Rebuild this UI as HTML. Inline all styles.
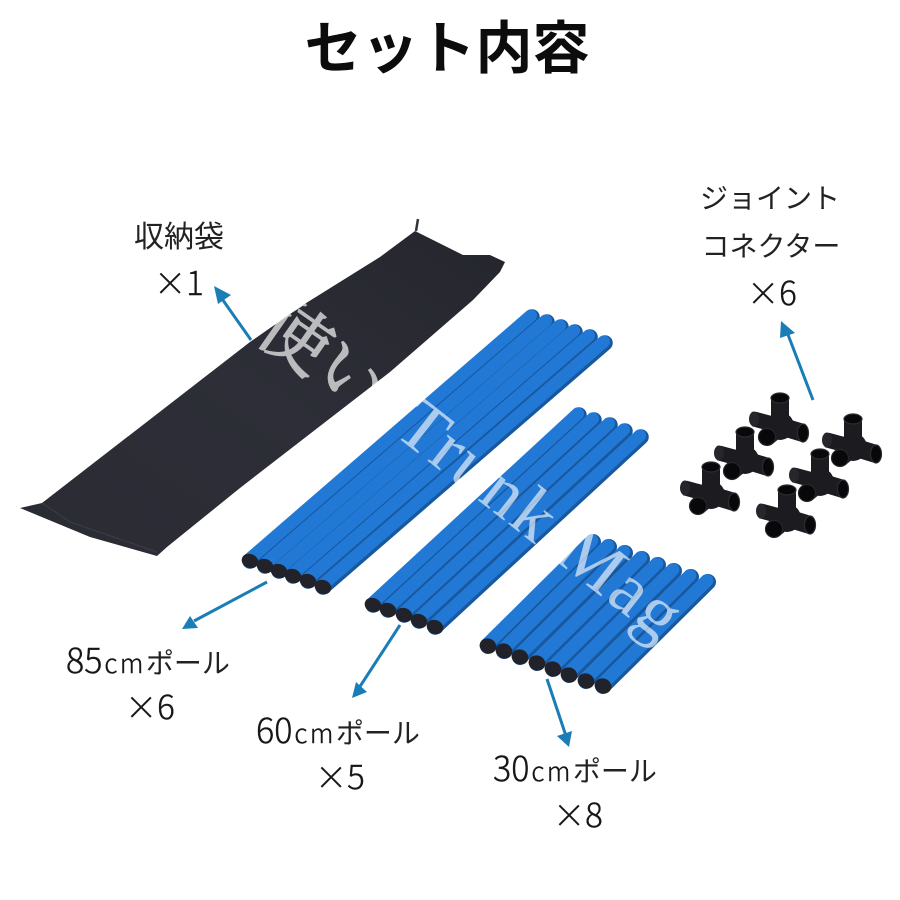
<!DOCTYPE html>
<html lang="ja">
<head>
<meta charset="utf-8">
<title>セット内容</title>
<style>
html,body{margin:0;padding:0;background:#fff;width:900px;height:900px;overflow:hidden}
svg{display:block}
.t{font-family:"Noto Sans CJK JP","Liberation Sans",sans-serif;fill:#161616;font-weight:300;stroke:#161616;stroke-width:.4}
.k{font-weight:400;fill:#222;stroke:none}
.arrow{stroke:#1a7db5;stroke-width:3;fill:none}
.ah{fill:#1a7db5}
</style>
</head>
<body>
<svg width="900" height="900" viewBox="0 0 900 900" xmlns="http://www.w3.org/2000/svg">
<defs>
<linearGradient id="bag" x1="0" y1="1" x2="1" y2="0">
<stop offset="0" stop-color="#2a2b33"/><stop offset=".5" stop-color="#2d2e37"/><stop offset="1" stop-color="#25262d"/>
</linearGradient>
<g id="p85" stroke-linecap="round" fill="none">
<line x1="0" y1="0" x2="282" y2="-244" stroke="#17589f" stroke-width="15.5"/>
<line x1="-1.2" y1="-1.4" x2="280.8" y2="-245.4" stroke="#2279d5" stroke-width="12.5"/>
<ellipse cx="0" cy="0" rx="8.5" ry="7" transform="rotate(22)" fill="#22232a"/>
</g>
<g id="p60" stroke-linecap="round" fill="none">
<line x1="0" y1="0" x2="206" y2="-190" stroke="#17589f" stroke-width="15.5"/>
<line x1="-1.2" y1="-1.4" x2="204.8" y2="-191.4" stroke="#2279d5" stroke-width="12.5"/>
<ellipse cx="0" cy="0" rx="8.5" ry="7" transform="rotate(22)" fill="#22232a"/>
</g>
<g id="p30" stroke-linecap="round" fill="none">
<line x1="0" y1="0" x2="105" y2="-104" stroke="#17589f" stroke-width="16"/>
<line x1="-1.2" y1="-1.4" x2="103.8" y2="-105.4" stroke="#2279d5" stroke-width="13"/>
<ellipse cx="0" cy="0" rx="8.5" ry="7.5" transform="rotate(22)" fill="#22232a"/>
</g>
<g id="conn" fill="none" stroke-linecap="butt">
<line x1="-26" y1="21" x2="0" y2="28" stroke="#1b1b20" stroke-width="15"/>
<ellipse cx="-26" cy="21" rx="5" ry="7.5" fill="#26262b"/>
<line x1="0" y1="0" x2="0" y2="30" stroke="#1b1b20" stroke-width="18"/>
<line x1="0" y1="28" x2="23" y2="35" stroke="#1b1b20" stroke-width="18"/>
<ellipse cx="23" cy="35" rx="5.5" ry="9" fill="#08080a" stroke="#2c2c31" stroke-width="1.2"/>
<circle cx="0" cy="28" r="14" fill="#1b1b20"/>
<line x1="0" y1="28" x2="-13" y2="39" stroke="#1b1b20" stroke-width="18"/>
<ellipse cx="-13" cy="39" rx="8.5" ry="8.5" fill="#08080a" stroke="#26262b" stroke-width="1.2"/>
<ellipse cx="0" cy="0" rx="9" ry="5" fill="#08080a" stroke="#2c2c31" stroke-width="1.2"/>
</g>
</defs>

<rect width="900" height="900" fill="#fff"/>

<!-- Title -->
<text x="447" y="68" text-anchor="middle" font-size="57" font-weight="700" fill="#0c0c0c" font-family="'Noto Sans CJK JP','Liberation Sans',sans-serif">セット内容</text>

<!-- Bag -->
<path d="M418 219 L416 231" stroke="#33343a" stroke-width="2.5" fill="none"/>
<path d="M20 508 L42 503 L250 342 L303 305 L380 257 L415 231 L463 255 L490 255 L505 262 L500 272 L473 300 L390 372 L240 488 L167 547 L157 556 L90 537 Z" fill="url(#bag)"/>
<path d="M42 503 L70 522 L157 552" stroke="#383943" stroke-width="1.5" fill="none"/>

<!-- 85cm poles -->
<use href="#p85" x="250" y="561"/>
<use href="#p85" x="265" y="566"/>
<use href="#p85" x="279" y="571"/>
<use href="#p85" x="293" y="576"/>
<use href="#p85" x="308" y="581"/>
<use href="#p85" x="323" y="587"/>

<!-- 60cm poles -->
<use href="#p60" x="373" y="605"/>
<use href="#p60" x="388" y="610"/>
<use href="#p60" x="404" y="615"/>
<use href="#p60" x="419" y="621"/>
<use href="#p60" x="435" y="627"/>

<!-- 30cm poles -->
<use href="#p30" x="488" y="646"/>
<use href="#p30" x="504" y="651"/>
<use href="#p30" x="520" y="657"/>
<use href="#p30" x="537" y="663"/>
<use href="#p30" x="553" y="669"/>
<use href="#p30" x="569" y="675"/>
<use href="#p30" x="586" y="681"/>
<use href="#p30" x="603" y="686"/>

<!-- Connectors -->
<use href="#conn" x="780" y="398"/>
<use href="#conn" x="853" y="419"/>
<use href="#conn" x="745" y="432"/>
<use href="#conn" x="820" y="454"/>
<use href="#conn" x="711" y="467"/>
<use href="#conn" x="787" y="490"/>

<!-- Watermark -->
<text transform="translate(253,337) rotate(35)" font-size="70" fill="#fff" stroke="#fff" stroke-width="1.6" opacity=".68" font-family="'Noto Serif CJK JP','Liberation Serif',serif">使い</text>
<text transform="translate(392,433) rotate(38)" font-size="72" fill="#fff" opacity=".62" letter-spacing="2" font-family="'Liberation Serif',serif">Trunk Mag</text>

<!-- Arrows -->
<line class="arrow" x1="251" y1="340" x2="220" y2="296"/>
<polygon class="ah" points="214,286 231,295 218,304"/>
<line class="arrow" x1="813" y1="400" x2="787" y2="332"/>
<polygon class="ah" points="781,321 795,333 780,338"/>
<line class="arrow" x1="267" y1="582" x2="194" y2="621"/>
<polygon class="ah" points="182,629 190,616 198,628"/>
<line class="arrow" x1="400" y1="625" x2="359" y2="688"/>
<polygon class="ah" points="352,698 356,682 367,692"/>
<line class="arrow" x1="547" y1="679" x2="566" y2="736"/>
<polygon class="ah" points="569,747 557,736 572,731"/>

<!-- Labels -->
<text class="t k" x="179" y="247" text-anchor="middle" font-size="30">収納袋</text>
<text class="t" x="179" y="295" text-anchor="middle" font-size="33"><tspan font-size="32">×</tspan>1</text>

<text class="t k" x="770" y="208" text-anchor="middle" font-size="28">ジョイント</text>
<text class="t k" x="771" y="256" text-anchor="middle" font-size="28">コネクター</text>
<text class="t" x="772" y="305" text-anchor="middle" font-size="33"><tspan font-size="32">×</tspan>6</text>

<text class="t" x="66" y="673" font-size="34">85<tspan font-size="26" dx="2" letter-spacing="2.5">cm</tspan><tspan class="k" font-size="28">ポール</tspan></text>
<text class="t" x="150" y="719" text-anchor="middle" font-size="33"><tspan font-size="32">×</tspan>6</text>

<text class="t" x="256" y="743" font-size="34">60<tspan font-size="26" dx="2" letter-spacing="2.5">cm</tspan><tspan class="k" font-size="28">ポール</tspan></text>
<text class="t" x="340" y="789" text-anchor="middle" font-size="33"><tspan font-size="32">×</tspan>5</text>

<text class="t" x="493" y="781" font-size="34">30<tspan font-size="26" dx="2" letter-spacing="2.5">cm</tspan><tspan class="k" font-size="28">ポール</tspan></text>
<text class="t" x="578" y="827" text-anchor="middle" font-size="33"><tspan font-size="32">×</tspan>8</text>
</svg>
</body>
</html>
